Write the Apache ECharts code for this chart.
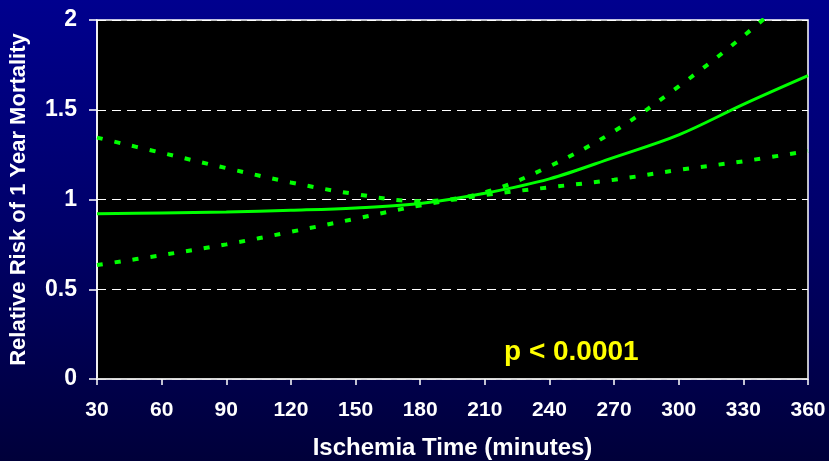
<!DOCTYPE html>
<html>
<head>
<meta charset="utf-8">
<script src="https://cdn.jsdelivr.net/npm/echarts@6/dist/echarts.min.js"></script>
<style>
html,body{margin:0;padding:0;}
#c{width:829px;height:461px;}
</style>
</head>
<body>
<div id="c"></div>
<script>
// Ischemia time (minutes)
var minutes = [30, 60, 90, 120, 150, 180, 210, 240, 270, 300, 330, 360];
// Relative risk estimate
var riskEstimate = [0.92, 0.925, 0.93, 0.94, 0.953, 0.978, 1.035, 1.115, 1.235, 1.36, 1.53, 1.69];
// Upper 95% confidence bound
var upperBound = [1.345, 1.26, 1.175, 1.095, 1.03, 0.99, 1.04, 1.185, 1.38, 1.63, 1.91, 2.22];
// Lower 95% confidence bound
var lowerBound = [0.635, 0.69, 0.75, 0.82, 0.893, 0.967, 1.025, 1.068, 1.11, 1.165, 1.213, 1.27];
var yTicks = [0, 0.5, 1, 1.5, 2];
var pText = 'p < 0.0001';

function pairs(xs, ys){ return xs.map(function(x,i){ return [x, ys[i]]; }); }

var chart = echarts.init(document.getElementById('c'));
var font = 'Arial, "Liberation Sans", sans-serif';
var green = '#00ff00';
chart.setOption({
  backgroundColor: {
    type: 'linear', x: 0, y: 0, x2: 0, y2: 1,
    colorStops: [
      {offset: 0, color: '#00008e'},
      {offset: 0.5, color: '#000068'},
      {offset: 1, color: '#00003a'}
    ]
  },
  animation: false,
  grid: {
    left: 97, right: 21, top: 20, bottom: 82,
    outerBoundsMode: 'none', containLabel: false,
    show: true, backgroundColor: '#000000', borderColor: '#ffffff', borderWidth: 1.5
  },
  xAxis: {
    type: 'value', min: 30, max: 360, interval: 30,
    name: 'Ischemia Time (minutes)', nameLocation: 'middle', nameGap: 57,
    nameTextStyle: {color: '#ffffff', fontSize: 24, fontWeight: 'bold', fontFamily: font},
    axisLine: {show: true, lineStyle: {color: '#dddddd', width: 1.5}},
    axisTick: {show: true, length: 6, lineStyle: {color: '#ffffff', width: 1.5}},
    axisLabel: {color: '#ffffff', fontSize: 21, fontWeight: 'bold', fontFamily: font, margin: 21},
    splitLine: {show: false}
  },
  yAxis: {
    type: 'value', min: yTicks[0], max: yTicks[yTicks.length-1], interval: 0.5,
    name: 'Relative Risk of 1 Year Mortality', nameLocation: 'middle', nameGap: 67,
    nameTextStyle: {color: '#ffffff', fontSize: 22, fontWeight: 'bold', fontFamily: font},
    axisLine: {show: true, lineStyle: {color: '#ffffff', width: 1.5}},
    axisTick: {show: true, length: 8, lineStyle: {color: '#ffffff', width: 1.5}},
    axisLabel: {color: '#ffffff', fontSize: 23, fontWeight: 'bold', fontFamily: font, margin: 20},
    splitLine: {show: true, lineStyle: {color: '#ffffff', width: 1.2, type: [9, 6]}}
  },
  series: [
    {
      type: 'line', data: pairs(minutes, upperBound), smooth: 0.35, symbol: 'none', clip: true,
      lineStyle: {color: green, width: 4, type: [6, 12]}
    },
    {
      type: 'line', data: pairs(minutes, lowerBound), smooth: 0.35, symbol: 'none', clip: true,
      lineStyle: {color: green, width: 4, type: [6, 12]}
    },
    {
      type: 'line', data: pairs(minutes, riskEstimate), smooth: 0.35, symbol: 'none', clip: true,
      lineStyle: {color: green, width: 3}
    }
  ],
  graphic: [{
    type: 'text', left: 504, top: 338,
    style: {text: pText, fill: '#ffff00', font: 'bold 28px ' + font}
  }]
});
</script>
</body>
</html>
